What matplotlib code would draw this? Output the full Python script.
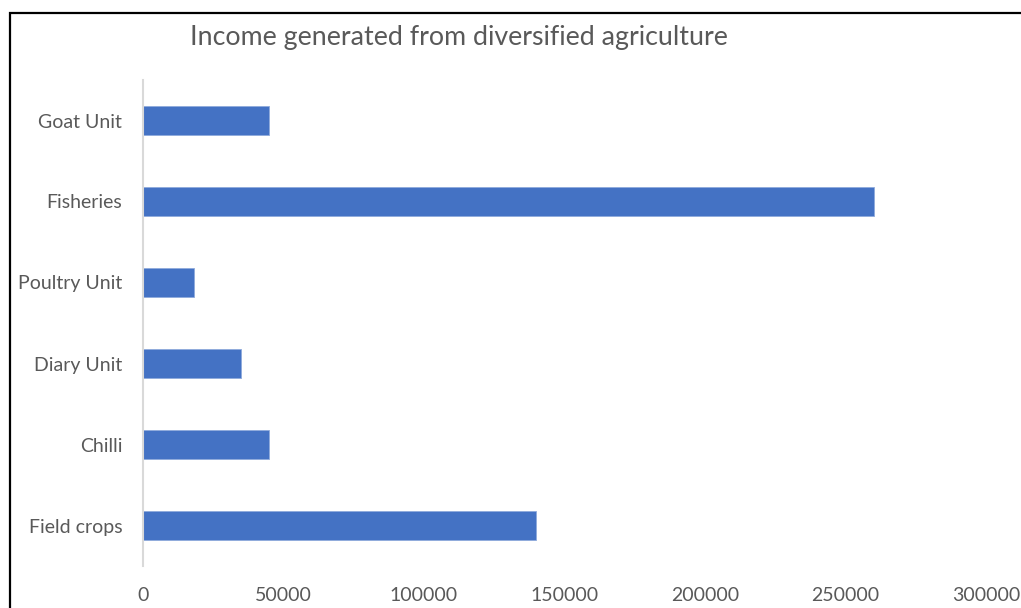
import matplotlib
matplotlib.use("Agg")
import matplotlib.pyplot as plt
from matplotlib.patches import Rectangle

categories = ['Field crops', 'Chilli', 'Diary Unit', 'Poultry Unit', 'Fisheries', 'Goat Unit']
income = [140000, 45000, 35000, 18000, 260000, 45000]
xticks = [0, 50000, 100000, 150000, 200000, 250000, 300000]

plt.rcParams['font.family'] = ['Lato', 'DejaVu Sans']
grey = '#595959'

fig = plt.figure(figsize=(10.21, 6.08), dpi=100)
ax = fig.add_axes([143 / 1021, 1 - 566 / 608, 843 / 1021, 486 / 608])

ax.barh(range(len(categories)), income, height=0.35, color='#4472C4',
        edgecolor='#8FAADC', linewidth=0.6)
ax.set_xlim(0, 300000)
ax.set_ylim(-0.5, len(categories) - 0.5)
ax.set_yticks(range(len(categories)))
ax.set_yticklabels(categories)
ax.set_xticks(xticks)
ax.set_xticklabels([str(v) for v in xticks])

for s in ['top', 'right', 'bottom']:
    ax.spines[s].set_visible(False)
ax.spines['left'].set_color('#D9D9D9')
ax.spines['left'].set_linewidth(1.5)
ax.tick_params(axis='both', length=0, labelsize=14, colors=grey)
ax.tick_params(axis='y', pad=15)
ax.tick_params(axis='x', pad=15)

fig.text(190 / 1021, 1 - 38 / 608, 'Income generated from diversified agriculture',
         fontsize=19.3, color=grey, ha='left', va='center')

# chart frame
fig.patches.append(Rectangle((10 / 1021, -0.1), 1.1, 1.1 - 13 / 608,
                             transform=fig.transFigure, fill=False,
                             edgecolor='#000000', linewidth=1.6))

fig.savefig('out.png', dpi=100)
